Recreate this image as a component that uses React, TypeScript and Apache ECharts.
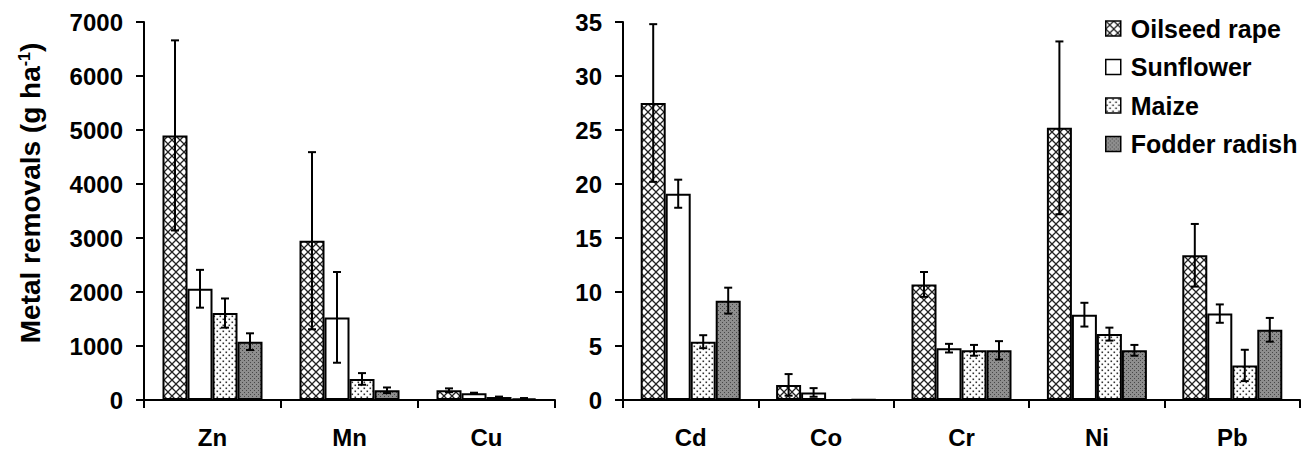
import React, { useEffect, useRef } from "react";
import * as echarts from "echarts";

// ---------- data ----------
const seriesNames = ["Oilseed rape", "Sunflower", "Maize", "Fodder radish"];

const leftCategories = ["Zn", "Mn", "Cu"];
const leftOilseed = [4900, 2950, 180];
const leftOilseedErr = [1760, 1640, 35];
const leftSunflower = [2060, 1530, 125];
const leftSunflowerErr = [350, 840, 10];
const leftMaize = [1610, 390, 55];
const leftMaizeErr = [270, 108, 8];
const leftFodder = [1080, 180, 30];
const leftFodderErr = [155, 52, 6];

const rightCategories = ["Cd", "Co", "Cr", "Ni", "Pb"];
const rightOilseed = [27.5, 1.4, 10.7, 25.2, 13.4];
const rightOilseedErr = [7.3, 1.0, 1.15, 8.0, 2.9];
const rightSunflower = [19.1, 0.7, 4.8, 7.9, 8.0];
const rightSunflowerErr = [1.3, 0.4, 0.4, 1.1, 0.85];
const rightMaize: (number | null)[] = [5.4, null, 4.6, 6.1, 3.2];
const rightMaizeErr: (number | null)[] = [0.6, null, 0.5, 0.6, 1.45];
const rightFodder = [9.2, 0.05, 4.6, 4.6, 6.5];
const rightFodderErr: (number | null)[] = [1.2, null, 0.85, 0.5, 1.1];

const leftYMax = 7000;
const leftYStep = 1000;
const rightYMax = 35;
const rightYStep = 5;

const yTitle = "Metal removals (g ha";
const yTitleSup = "-1";

// ---------- styling helpers ----------
const FONT = '"Liberation Sans", Arial, Helvetica, sans-serif';
const BAR_W = 25;

function makePattern(kind: string) {
  const c = document.createElement("canvas");
  let size = 8;
  if (kind === "cross") size = 8;
  if (kind === "dots") size = 6;
  if (kind === "dark") size = 4;
  c.width = size;
  c.height = size;
  const ctx = c.getContext("2d")!;
  if (kind === "cross") {
    ctx.fillStyle = "#ffffff";
    ctx.fillRect(0, 0, size, size);
    ctx.strokeStyle = "#222222";
    ctx.lineWidth = 1.3;
    ctx.beginPath();
    ctx.moveTo(-1, -1);
    ctx.lineTo(size + 1, size + 1);
    ctx.moveTo(size + 1, -1);
    ctx.lineTo(-1, size + 1);
    ctx.stroke();
  } else if (kind === "dots") {
    ctx.fillStyle = "#ffffff";
    ctx.fillRect(0, 0, size, size);
    ctx.fillStyle = "#333333";
    ctx.fillRect(0.5, 0.5, 1.6, 1.6);
    ctx.fillRect(3.5, 3.5, 1.6, 1.6);
  } else if (kind === "dark") {
    ctx.fillStyle = "#8e8e8e";
    ctx.fillRect(0, 0, size, size);
    ctx.fillStyle = "#474747";
    ctx.fillRect(0, 0, 1, 1);
    ctx.fillRect(2, 2, 1, 1);
  } else {
    ctx.fillStyle = "#ffffff";
    ctx.fillRect(0, 0, size, size);
  }
  return { image: c, repeat: "repeat", imageWidth: size, imageHeight: size } as any;
}

function errorData(values: (number | null)[][], errs: (number | null)[][]) {
  const out: number[][] = [];
  values.forEach((vals, s) => {
    vals.forEach((v, c) => {
      const e = errs[s][c];
      if (v != null && e != null) out.push([c, v - e, v + e, s]);
    });
  });
  return out;
}

export default function App() {
  const ref = useRef<HTMLDivElement>(null);

  useEffect(() => {
    if (!ref.current) return;
    const chart = echarts.init(ref.current, undefined, { renderer: "svg" });

    const fills = [
      makePattern("cross"),
      "#ffffff",
      makePattern("dots"),
      makePattern("dark"),
    ];

    const leftValues = [leftOilseed, leftSunflower, leftMaize, leftFodder];
    const leftErrs = [leftOilseedErr, leftSunflowerErr, leftMaizeErr, leftFodderErr];
    const rightValues = [rightOilseed, rightSunflower, rightMaize, rightFodder];
    const rightErrs = [rightOilseedErr, rightSunflowerErr, rightMaizeErr, rightFodderErr];

    const axisLine = { show: true, lineStyle: { color: "#000", width: 2 } };
    const axisTick = { show: true, length: 8, lineStyle: { color: "#000", width: 2 } };

    const xAxisCommon = (idx: number, data: string[]) => ({
      type: "category",
      gridIndex: idx,
      data,
      boundaryGap: true,
      axisLine,
      axisTick: { ...axisTick, alignWithLabel: false, interval: 0 },
      axisLabel: {
        margin: 25,
        fontSize: 24,
        fontWeight: "bold",
        color: "#000",
        fontFamily: FONT,
        interval: 0,
      },
      splitLine: { show: false },
    });

    const yAxisCommon = (idx: number, max: number, step: number) => ({
      type: "value",
      gridIndex: idx,
      min: 0,
      max,
      interval: step,
      axisLine,
      axisTick,
      axisLabel: {
        margin: 21,
        fontSize: 24,
        fontWeight: "bold",
        color: "#000",
        fontFamily: FONT,
        formatter: (v: number) => String(v),
      },
      splitLine: { show: false },
    });

    const barSeries = (g: number, values: (number | null)[][]) =>
      values.map((vals, s) => ({
        type: "bar",
        name: seriesNames[s],
        xAxisIndex: g,
        yAxisIndex: g,
        data: vals.map((v) => (v == null ? "-" : v)),
        barWidth: BAR_W,
        barGap: "0%",
        silent: true,
        itemStyle: { color: fills[s], borderColor: "#000", borderWidth: 2 },
        emphasis: { disabled: true },
        z: 2,
      }));

    const errSeries = (g: number, data: number[][]) => ({
      type: "custom",
      xAxisIndex: g,
      yAxisIndex: g,
      silent: true,
      z: 5,
      encode: { x: 0, y: [1, 2] },
      data,
      renderItem: (params: any, api: any) => {
        const c = api.value(0);
        const lo = api.value(1);
        const hi = api.value(2);
        const s = api.value(3);
        const pHi = api.coord([c, hi]);
        const pLo = api.coord([c, lo]);
        const x = pHi[0] + (s - 1.5) * BAR_W;
        const cap = 4;
        const st = { stroke: "#000", lineWidth: 2 };
        return {
          type: "group",
          children: [
            { type: "line", shape: { x1: x, y1: pHi[1], x2: x, y2: pLo[1] }, style: st },
            { type: "line", shape: { x1: x - cap, y1: pHi[1], x2: x + cap, y2: pHi[1] }, style: st },
            { type: "line", shape: { x1: x - cap, y1: pLo[1], x2: x + cap, y2: pLo[1] }, style: st },
          ],
        };
      },
    });

    const option: any = {
      animation: false,
      backgroundColor: "#ffffff",
      textStyle: { fontFamily: FONT },
      grid: [
        { left: 144, top: 22, width: 411, height: 378 },
        { left: 623, top: 22, width: 677, height: 378 },
      ],
      xAxis: [xAxisCommon(0, leftCategories), xAxisCommon(1, rightCategories)],
      yAxis: [yAxisCommon(0, leftYMax, leftYStep), yAxisCommon(1, rightYMax, rightYStep)],
      legend: {
        data: seriesNames,
        orient: "vertical",
        left: 1105,
        top: 16,
        padding: 0,
        itemWidth: 15,
        itemHeight: 15,
        itemGap: 13.5,
        icon: "rect",
        selectedMode: false,
        itemStyle: { borderColor: "#000", borderWidth: 1.5 },
        textStyle: {
          fontSize: 25,
          fontWeight: "bold",
          color: "#000",
          fontFamily: FONT,
          padding: [0, 0, 0, 5],
        },
      },
      graphic: [
        {
          type: "text",
          x: 30,
          y: 193,
          rotation: Math.PI / 2,
          silent: true,
          style: {
            text: `{a|${yTitle}}{s|${yTitleSup}}{a|)}`,
            align: "center",
            verticalAlign: "middle",
            rich: {
              a: { fontSize: 28, fontWeight: "bold", fontFamily: FONT, fill: "#000" },
              s: { fontSize: 16, fontWeight: "bold", fontFamily: FONT, fill: "#000", verticalAlign: "top" },
            },
          },
        },
      ],
      series: [
        ...barSeries(0, leftValues),
        ...barSeries(1, rightValues),
        errSeries(0, errorData(leftValues, leftErrs)),
        errSeries(1, errorData(rightValues, rightErrs)),
      ],
    };

    chart.setOption(option);
    return () => chart.dispose();
  }, []);

  return (
    <div
      ref={ref}
      style={{ position: "absolute", left: 0, top: 0, width: 1310, height: 451, background: "#fff" }}
    />
  );
}
